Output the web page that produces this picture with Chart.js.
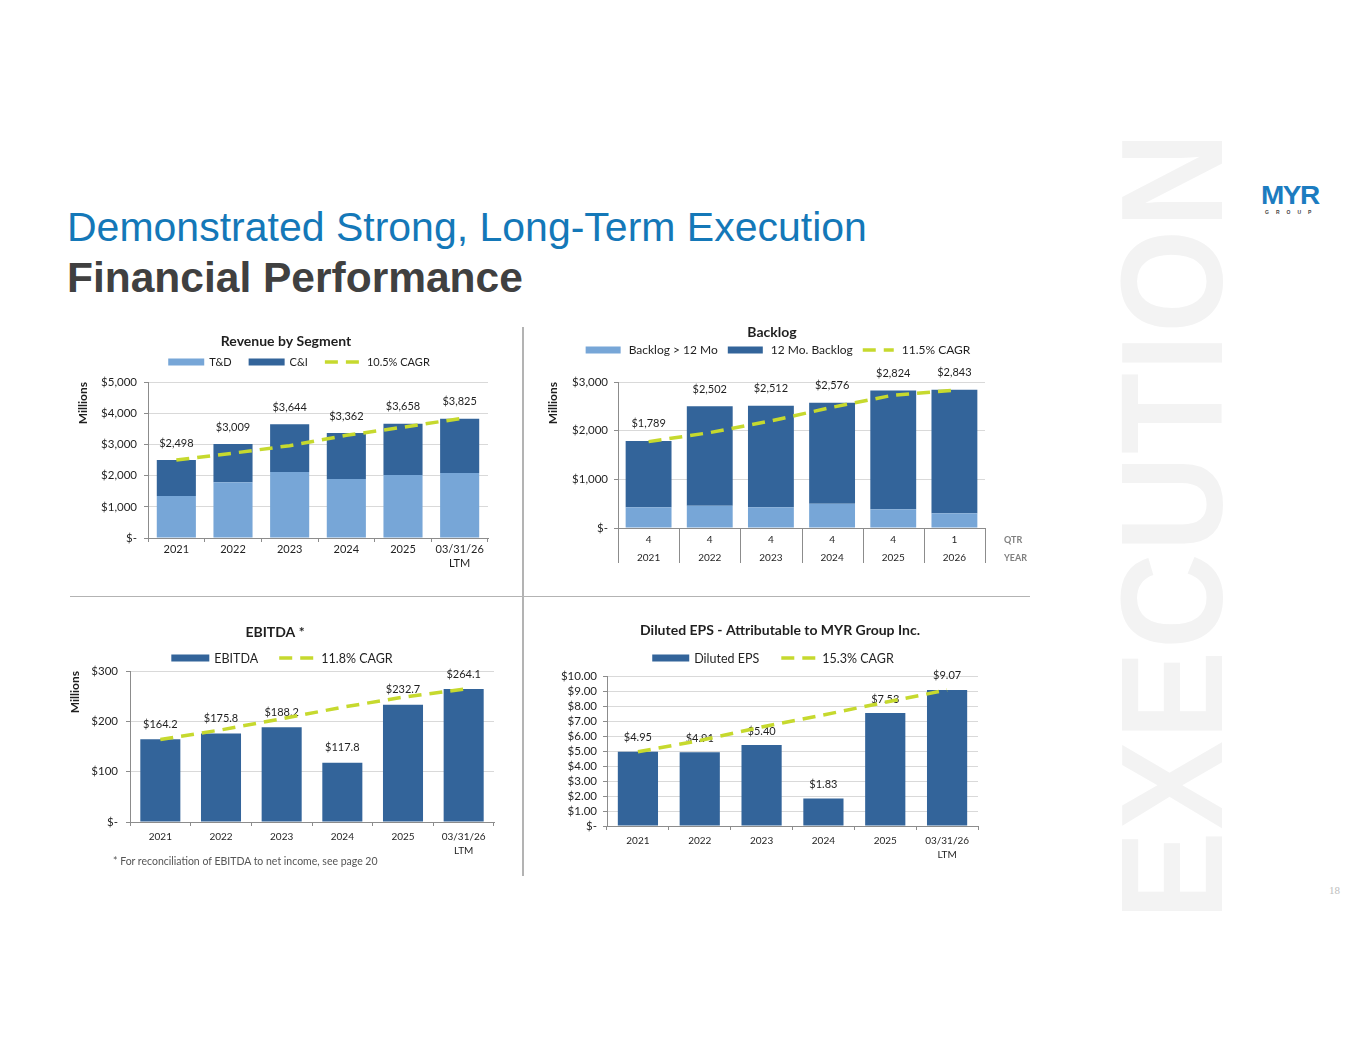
<!DOCTYPE html>
<html>
<head>
<meta charset="utf-8">
<script src="https://cdn.jsdelivr.net/npm/chart.js@4.4.1/dist/chart.umd.min.js"></script>
<style>
html,body{margin:0;padding:0;background:#fff;}
body{width:1365px;height:1055px;position:relative;overflow:hidden;font-family:'Liberation Sans',Arial,sans-serif;}
.abs{position:absolute;}
#wm{left:1173px;top:525px;transform:translate(-50%,-50%) rotate(-90deg) scaleX(0.92);font-family:'Liberation Sans',Arial,sans-serif;font-weight:bold;font-size:144px;line-height:1;color:#f3f3f3;white-space:nowrap;letter-spacing:2px;}
#t1{left:67px;top:207px;font-size:41px;line-height:1;color:#1478b8;white-space:nowrap;}
#t2{left:67px;top:257px;font-size:42.5px;line-height:1;font-weight:bold;color:#404040;white-space:nowrap;}
.vl{background:#b3b3b3;}
#foot{left:113px;top:855px;font-family:Lato,sans-serif;font-size:10.5px;color:#555;white-space:nowrap;}
#pg{left:1329px;top:884px;font-family:'Liberation Serif',serif;font-size:11px;color:#bdbdbd;}
#logo{left:1261px;top:181px;font-family:'Liberation Sans',Arial,sans-serif;font-weight:900;font-size:28px;line-height:1;color:#1c7cc0;letter-spacing:-1.5px;transform:scaleY(0.95);}
#logo2{left:1265px;top:209px;font-family:'Liberation Sans',Arial,sans-serif;font-weight:bold;font-size:5px;color:#444;letter-spacing:7px;}
</style>
</head>
<body>
<div id="wm" class="abs">EXECUTION</div>
<div id="t1" class="abs">Demonstrated Strong, Long-Term Execution</div>
<div id="t2" class="abs">Financial Performance</div>
<div id="logo" class="abs">MYR</div>
<div id="logo2" class="abs">GROUP</div>
<div class="abs vl" style="left:522px;top:327px;width:1.5px;height:549px;"></div>
<div class="abs vl" style="left:70px;top:595.5px;width:960px;height:1.5px;"></div>
<canvas id="c1" class="abs" width="440" height="258" style="left:70px;top:322px;"></canvas>
<canvas id="c2" class="abs" width="490" height="258" style="left:540px;top:322px;"></canvas>
<canvas id="c3" class="abs" width="470" height="255" style="left:40px;top:615px;"></canvas>
<canvas id="c4" class="abs" width="460" height="255" style="left:540px;top:615px;"></canvas>
<div id="foot" class="abs">* For reconciliation of EBITDA to net income, see page 20</div>
<div id="pg" class="abs">18</div>
<script>
// ---------- data ----------
const yearLabels = ['2021', '2022', '2023', '2024', '2025', ['03/31/26', 'LTM']];

const revenueTD = [1350, 1787, 2117, 1894, 2021, 2085];
const revenueCI = [1148, 1222, 1527, 1468, 1637, 1740];
const revenueCAGR = [2498, 2720, 2960, 3290, 3550, 3825];

const backlogQtr = ['4', '4', '4', '4', '4', '1'];
const backlogYear = ['2021', '2022', '2023', '2024', '2025', '2026'];
const backlogRowTitles = ['QTR', 'YEAR'];
const backlogLong = [425, 459, 425, 500, 384, 301];
const backlog12 = [1364, 2043, 2087, 2076, 2440, 2542];
const backlogCAGR = [1775, 1960, 2200, 2480, 2730, 2830];

const ebitda = [164.2, 175.8, 188.2, 117.8, 232.7, 264.1];
const ebitdaCAGR = [164, 183, 205, 228, 248, 264];

const eps = [4.95, 4.91, 5.40, 1.83, 7.53, 9.07];
const epsCAGR = [4.95, 5.70, 6.60, 7.40, 8.25, 9.07];

// ---------- style ----------
const DARK = '#33649a';
const LIGHT = '#77a6d7';
const LIME = '#c6d92e';
const GRID = '#d9d9d9';
const AXIS = '#8c8c8c';
const TXT = '#1f1f1f';
const FONT = 'Lato, sans-serif';

const fmtThousands = v => '$' + Math.round(v).toLocaleString('en-US');
const sumArr = (a, b) => a.map((v, i) => v + b[i]);

// ---------- plugins ----------
const valueLabels = {
  id: 'valueLabels',
  beforeDatasetsDraw(chart, args, o) {
    if (!o || !o.texts) return;
    const ctx = chart.ctx;
    const meta = chart.getDatasetMeta(o.datasetIndex);
    ctx.save();
    ctx.font = o.font;
    ctx.fillStyle = TXT;
    ctx.textAlign = 'center';
    ctx.textBaseline = 'middle';
    meta.data.forEach((el, i) => ctx.fillText(o.texts[i], el.x, el.y - o.offset));
    ctx.restore();
  }
};

const chartHeading = {
  id: 'chartHeading',
  afterDraw(chart, args, o) {
    if (!o || !o.text) return;
    const ctx = chart.ctx;
    ctx.save();
    ctx.font = 'bold 14px Lato, sans-serif';
    ctx.fillStyle = TXT;
    ctx.textAlign = 'center';
    ctx.textBaseline = 'middle';
    ctx.fillText(o.text, o.centerX, chart.chartArea.top - o.offset);
    ctx.restore();
  }
};

const swatchLegend = {
  id: 'swatchLegend',
  afterDraw(chart, args, o) {
    if (!o || o.centerX === undefined) return;
    const ctx = chart.ctx;
    ctx.save();
    ctx.font = o.font;
    const items = chart.data.datasets.map(ds => ({
      text: ds.label,
      line: ds.type === 'line',
      color: ds.type === 'line' ? ds.borderColor : ds.backgroundColor
    }));
    let total = 0;
    items.forEach((it, i) => {
      it.bw = it.line ? o.lineBox : o.box;
      it.w = it.bw + o.gap + ctx.measureText(it.text).width;
      total += it.w + (i < items.length - 1 ? o.spacing : 0);
    });
    let x = o.centerX - total / 2;
    const y = chart.chartArea.top - o.offset;
    items.forEach(it => {
      if (it.line) {
        ctx.strokeStyle = it.color;
        ctx.lineWidth = 3.5;
        ctx.setLineDash([13, 8]);
        ctx.beginPath();
        ctx.moveTo(x, y);
        ctx.lineTo(x + it.bw, y);
        ctx.stroke();
        ctx.setLineDash([]);
      } else {
        ctx.fillStyle = it.color;
        ctx.fillRect(x, y - 3.5, it.bw, 7);
      }
      ctx.fillStyle = TXT;
      ctx.textAlign = 'left';
      ctx.textBaseline = 'middle';
      ctx.fillText(it.text, x + it.bw + o.gap, y + 0.5);
      x += it.w + o.spacing;
    });
    ctx.restore();
  }
};

// multi-level category axis: row titles and category separators
const multiLevelAxis = {
  id: 'multiLevelAxis',
  afterDraw(chart, args, o) {
    if (!o || !o.texts) return;
    const ctx = chart.ctx;
    const xs = chart.scales.x;
    const n = chart.data.labels.length;
    const step = (xs.right - xs.left) / n;
    ctx.save();
    ctx.strokeStyle = AXIS;
    ctx.lineWidth = 1;
    ctx.beginPath();
    for (let k = 0; k <= n; k++) {
      const px = Math.round(xs.left + k * step) + 0.5;
      ctx.moveTo(px, chart.chartArea.bottom);
      ctx.lineTo(px, chart.chartArea.bottom + o.sepLength);
    }
    ctx.stroke();
    ctx.font = o.font;
    ctx.fillStyle = '#7f7f7f';
    ctx.textAlign = 'left';
    ctx.textBaseline = 'middle';
    o.texts.forEach((t, i) => ctx.fillText(t, chart.chartArea.right + o.dx, chart.chartArea.bottom + o.dy[i]));
    ctx.restore();
  }
};

Chart.register(valueLabels, chartHeading, swatchLegend, multiLevelAxis);
Chart.defaults.font.family = FONT;
Chart.defaults.color = TXT;

function cagrDataset(label, data) {
  return {
    type: 'line', label, data, stack: 'cagr',
    borderColor: LIME, backgroundColor: LIME, borderWidth: 3.5,
    borderDash: [13, 8], pointRadius: 0, pointHoverRadius: 0,
    tension: 0, order: 0, fill: false
  };
}
function barDataset(label, data, color, pct) {
  return {
    type: 'bar', label, data, backgroundColor: color, borderWidth: 0, order: 1, stack: 'bars',
    categoryPercentage: 1.0, barPercentage: pct
  };
}

function makeOptions(cfg) {
  return {
    responsive: false,
    animation: false,
    devicePixelRatio: 1,
    layout: { padding: { left: cfg.padL, right: cfg.padR, top: cfg.padT, bottom: cfg.padB } },
    plugins: {
      legend: { display: false },
      tooltip: { enabled: false },
      title: { display: false },
      chartHeading: cfg.heading,
      valueLabels: { texts: cfg.labels, datasetIndex: cfg.labelIndex, offset: cfg.labelOffset, font: '11px Lato, sans-serif' },
      swatchLegend: cfg.legend,
      multiLevelAxis: cfg.multi || {}
    },
    scales: {
      x: {
        stacked: cfg.stacked,
        grid: { offset: true, drawOnChartArea: false, drawTicks: cfg.xTick > 0, tickLength: cfg.xTick, tickColor: AXIS, lineWidth: 1 },
        border: { color: AXIS, width: 1 },
        ticks: {
          color: TXT, padding: cfg.xPad, maxRotation: 0, minRotation: 0, autoSkip: false,
          font: { family: FONT, size: cfg.xFont, lineHeight: cfg.xLine / cfg.xFont }
        }
      },
      y: {
        stacked: cfg.stacked,
        min: 0, max: cfg.yMax,
        ticks: { stepSize: cfg.yStep, autoSkip: false, callback: cfg.yFmt, color: TXT, padding: cfg.yPad, font: { family: FONT, size: 11.5 } },
        grid: { color: GRID, tickColor: AXIS, tickLength: 4, lineWidth: 1 },
        border: { color: AXIS, width: 1 },
        title: cfg.millions ? {
          display: true, text: 'Millions', align: 'end', color: TXT,
          font: { family: FONT, size: 12, weight: 'bold', lineHeight: 1.2 },
          padding: { top: 0, bottom: 0 }
        } : { display: false },
        afterFit(s) { s.width = cfg.yWidth; }
      }
    }
  };
}

// ---------- Revenue ----------
const revenueTotal = sumArr(revenueTD, revenueCI);
new Chart(document.getElementById('c1'), {
  type: 'bar',
  data: {
    labels: yearLabels,
    datasets: [
      barDataset('T&D', revenueTD, LIGHT, 0.69),
      barDataset('C&I', revenueCI, DARK, 0.69),
      cagrDataset('10.5% CAGR', revenueCAGR)
    ]
  },
  options: makeOptions({
    padL: 5.8, padR: 22, padT: 60, padB: 10,
    heading: { text: 'Revenue by Segment', centerX: 216, offset: 41 },
    labels: revenueTotal.map(fmtThousands), labelIndex: 1, labelOffset: 17,
    legend: { centerX: 229, offset: 20, font: '11px Lato, sans-serif', box: 36, lineBox: 37, gap: 5, spacing: 17 },
    stacked: true, xTick: 4, xPad: 0, xFont: 11, xLine: 14,
    yMax: 5000, yStep: 1000, yFmt: v => v === 0 ? '$-' : fmtThousands(v), yPad: 7, millions: true, yWidth: 72.2
  })
});

// ---------- Backlog ----------
const backlogTotal = sumArr(backlogLong, backlog12);
new Chart(document.getElementById('c2'), {
  type: 'bar',
  data: {
    labels: backlogQtr.map((q, i) => [q, backlogYear[i]]),
    datasets: [
      barDataset('Backlog > 12 Mo', backlogLong, LIGHT, 0.75),
      barDataset('12 Mo. Backlog', backlog12, DARK, 0.75),
      cagrDataset('11.5% CAGR', backlogCAGR)
    ]
  },
  options: makeOptions({
    padL: 5.8, padR: 45, padT: 60, padB: 10,
    heading: { text: 'Backlog', centerX: 232, offset: 50 },
    labels: backlogTotal.map(fmtThousands), labelIndex: 1, labelOffset: 17,
    legend: { centerX: 238, offset: 32, font: '12px Lato, sans-serif', box: 35, lineBox: 31, gap: 8, spacing: 10 },
    multi: { texts: backlogRowTitles, font: 'bold 9px Lato, sans-serif', dx: 19, dy: [12, 30], sepLength: 35 },
    stacked: true, xTick: 0, xPad: 3, xFont: 10, xLine: 18,
    yMax: 3000, yStep: 1000, yFmt: v => v === 0 ? '$-' : fmtThousands(v), yPad: 6, millions: true, yWidth: 72.2
  })
});

// ---------- EBITDA ----------
new Chart(document.getElementById('c3'), {
  type: 'bar',
  data: {
    labels: yearLabels,
    datasets: [
      barDataset('EBITDA', ebitda, DARK, 0.66),
      cagrDataset('11.8% CAGR', ebitdaCAGR)
    ]
  },
  options: makeOptions({
    padL: 27.8, padR: 16, padT: 56, padB: 8,
    heading: { text: 'EBITDA *', centerX: 235, offset: 39 },
    labels: ebitda.map(v => '$' + v.toFixed(1)), labelIndex: 0, labelOffset: 15,
    legend: { centerX: 242, offset: 13, font: '12.5px Lato, sans-serif', box: 38, lineBox: 37, gap: 5, spacing: 21 },
    stacked: false, xTick: 4, xPad: 4, xFont: 10, xLine: 14,
    yMax: 300, yStep: 100, yFmt: v => v === 0 ? '$-' : '$' + v, yPad: 8, millions: true, yWidth: 62.2
  })
});

// ---------- EPS ----------
new Chart(document.getElementById('c4'), {
  type: 'bar',
  data: {
    labels: yearLabels,
    datasets: [
      barDataset('Diluted EPS', eps, DARK, 0.65),
      cagrDataset('15.3% CAGR', epsCAGR)
    ]
  },
  options: makeOptions({
    padL: 10, padR: 22, padT: 61, padB: 4,
    heading: { text: 'Diluted EPS - Attributable to MYR Group Inc.', centerX: 240, offset: 46 },
    labels: eps.map(v => '$' + v.toFixed(2)), labelIndex: 0, labelOffset: 14,
    legend: { centerX: 233, offset: 18, font: '12.5px Lato, sans-serif', box: 37, lineBox: 36, gap: 5, spacing: 22 },
    stacked: false, xTick: 4, xPad: 4, xFont: 10, xLine: 14,
    yMax: 10, yStep: 1, yFmt: v => v === 0 ? '$-' : '$' + v.toFixed(2), yPad: 6, millions: false, yWidth: 57
  })
});
</script>
</body>
</html>
